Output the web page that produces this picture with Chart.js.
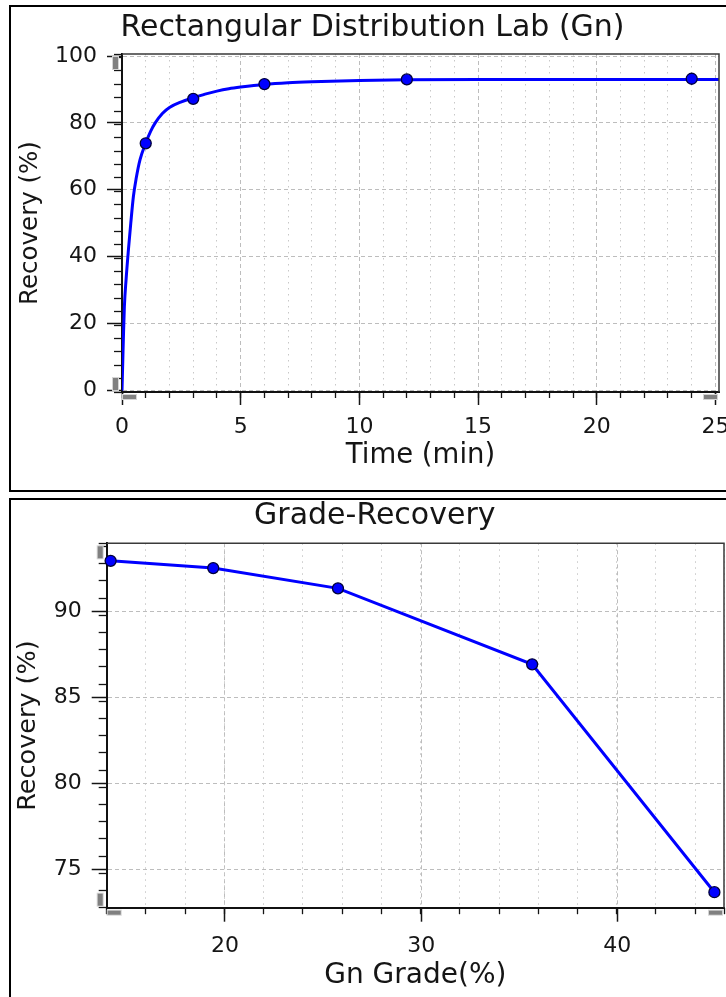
<!DOCTYPE html>
<html><head><meta charset="utf-8">
<script src="https://cdn.jsdelivr.net/npm/chart.js@4.4.0/dist/chart.umd.min.js"></script>
<style>
html,body{margin:0;padding:0;background:#fff;overflow:hidden;width:726px;height:997px;}
.panel{position:absolute;left:9px;width:760px;box-sizing:border-box;border:2px solid #000;}
#p1{top:5px;height:487px;}
#p2{top:498px;height:520px;}
canvas{position:absolute;left:0;}
#c1{top:0;}
#c2{top:495px;}
</style></head><body>
<div class="panel" id="p1"></div><div class="panel" id="p2"></div>
<canvas id="c1" width="745" height="495"></canvas>
<canvas id="c2" width="745" height="502"></canvas>
<script>
// ---------- Chart 1: Rectangular Distribution Lab (Gn) ----------
const kineticTime = [1, 3, 6, 12, 24];
const kineticRecovery = [73.9, 87.2, 91.6, 93.0, 93.2];
const fitTime = [0, 0.03, 0.06, 0.1, 0.17, 0.27, 0.37, 0.48, 0.6, 0.76, 1, 1.2, 1.4, 1.7, 2, 2.5, 3, 3.5, 4, 4.5, 5, 6, 7, 8, 10, 12, 15, 20, 26];
const fitRecovery = [0, 8, 16, 25, 33, 42, 50, 58, 63.5, 69, 74, 77.4, 80, 82.8, 84.6, 86.3, 87.5, 88.6, 89.5, 90.2, 90.7, 91.5, 92, 92.3, 92.7, 92.9, 93, 93, 93];
const timeRange = [0, 25.15];
const timeMajorTicks = [0, 5, 10, 15, 20, 25];
const timeMinorStep = 1;
const recTopRange = [-0.48, 100.6];
const recTopMajorTicks = [0, 20, 40, 60, 80, 100];
const recTopMinorStep = 4;

// ---------- Chart 2: Grade-Recovery ----------
const gnGrade = [14.17, 19.4, 25.76, 35.66, 44.95];
const gradeRecovery = [92.92, 92.5, 91.32, 86.9, 73.65];
const gradeRange = [13.97, 45.44];
const gradeMajorTicks = [20, 30, 40];
const gradeMinorStep = 2;
const recBotRange = [72.75, 93.94];
const recBotMajorTicks = [75, 80, 85, 90];
const recBotMinorStep = 1;

const FONT = "'DejaVu Sans', Verdana, sans-serif";
const TEXT = '#151515';
Chart.defaults.font.family = FONT;
Chart.defaults.color = TEXT;

const toXY = (xs, ys) => xs.map((v, i) => ({x: v, y: ys[i]}));

const framePlugin = {
  id: 'frame',
  afterDatasetsDraw(chart) {
    const {ctx, chartArea: a} = chart;
    ctx.save();
    ctx.strokeStyle = '#3a3a3a';
    ctx.lineWidth = 1.5;
    ctx.beginPath();
    ctx.moveTo(a.left, a.top);
    ctx.lineTo(a.right, a.top);
    ctx.lineTo(a.right, a.bottom);
    ctx.stroke();
    ctx.restore();
  }
};
const handlePlugin = {
  id: 'handles',
  afterDraw(chart) {
    const {ctx, chartArea: a} = chart;
    const box = (x, y, w, h) => {
      ctx.fillStyle = '#d4d4d4';
      ctx.fillRect(x - 1, y - 1, w + 2, h + 2);
      ctx.fillStyle = '#808080';
      ctx.fillRect(x, y, w, h);
    };
    ctx.save();
    box(a.left - 9, a.top + 3, 5, 12);
    box(a.left - 9, a.bottom - 14, 5, 12);
    box(a.left + 1, a.bottom + 3, 13, 4);
    box(a.right - 15, a.bottom + 3, 13, 4);
    ctx.restore();
  }
};

function makeChart(id, c) {
  const majorGrid = {color: '#bdbdbd', lineWidth: 1, tickColor: TEXT, tickWidth: 1.5};
  return new Chart(document.getElementById(id), {
    type: 'scatter',
    data: {datasets: c.datasets},
    options: {
      responsive: false, animation: false, devicePixelRatio: 1,
      layout: {padding: {left: c.padL, right: c.padR, top: 0, bottom: 0}},
      plugins: {
        legend: {display: false}, tooltip: {enabled: false},
        title: {display: true, text: c.title, color: TEXT,
          font: {family: FONT, size: c.titleSize, weight: 'normal'},
          padding: {top: c.titlePadT, bottom: c.titlePadB}}
      },
      scales: {
        x: {
          type: 'linear', position: 'bottom', weight: 1, bounds: 'data',
          min: c.xRange[0], max: c.xRange[1],
          afterBuildTicks: s => { s.ticks = c.xMajor.map(v => ({value: v})); },
          afterFit: s => { s.height = c.xAxisH; },
          grid: Object.assign({}, majorGrid, {tickLength: c.xTickLen}),
          border: {display: true, color: '#111', width: 2, dash: [4, 3]},
          ticks: {font: {size: 22}, color: TEXT, padding: c.xTickPad, maxRotation: 0},
          title: {display: true, text: c.xTitle, color: TEXT,
            font: {size: c.xTitleSize}, padding: {top: 0, bottom: c.xTitlePadB}}
        },
        xm: {
          type: 'linear', position: 'bottom', weight: 0, bounds: 'data',
          min: c.xRange[0], max: c.xRange[1],
          afterFit: s => { s.height = 0; },
          grid: {
            color: ctx => (ctx.tick && c.xMajor.includes(Math.round(ctx.tick.value * 1000) / 1000)) ? 'rgba(0,0,0,0)' : '#c8c8c8',
            lineWidth: 1, tickColor: TEXT, tickWidth: 1.3, tickLength: c.xMinorLen
          },
          border: {display: false, dash: [1.5, 4.5]},
          ticks: {display: false, stepSize: c.xMinor, includeBounds: false}
        },
        y: {
          type: 'linear', position: 'left', weight: 1, bounds: 'data',
          min: c.yRange[0], max: c.yRange[1],
          afterBuildTicks: s => { s.ticks = c.yMajor.map(v => ({value: v})); },
          afterFit: s => { s.width = c.yAxisW; },
          grid: Object.assign({}, majorGrid, {tickLength: 15}),
          border: {display: true, color: '#111', width: 2, dash: [4, 3]},
          ticks: {font: {size: 22}, color: TEXT, padding: 10},
          title: {display: true, text: 'Recovery (%)', color: TEXT,
            font: {size: c.yTitleSize, lineHeight: c.yTitleLH}, padding: {top: 0, bottom: 0}}
        },
        ym: {
          type: 'linear', position: 'left', weight: 0, bounds: 'data',
          min: c.yRange[0], max: c.yRange[1],
          afterFit: s => { s.width = 0; },
          grid: {drawOnChartArea: false, color: '#c8c8c8', tickColor: TEXT, tickWidth: 1.3, tickLength: 8},
          border: {display: false},
          ticks: {display: false, stepSize: c.yMinor, includeBounds: false}
        }
      }
    },
    plugins: [framePlugin, handlePlugin]
  });
}

const pointStyle = {
  pointRadius: 5.5, pointBackgroundColor: '#0000ff',
  pointBorderColor: '#00003a', pointBorderWidth: 1.3
};

makeChart('c1', {
  title: 'Rectangular Distribution Lab (Gn)', titleSize: 30, titlePadT: 10, titlePadB: 8,
  padL: 26, padR: 26, yAxisW: 96, xAxisH: 103,
  xRange: timeRange, xMajor: timeMajorTicks, xMinor: timeMinorStep,
  yRange: recTopRange, yMajor: recTopMajorTicks, yMinor: recTopMinorStep,
  xTickLen: 13, xMinorLen: 6, xTickPad: 9.3,
  xTitle: 'Time (min)', xTitleSize: 27.5, xTitlePadB: 22.5,
  yTitleSize: 24.5, yTitleLH: '10px',
  datasets: [
    Object.assign({data: toXY(kineticTime, kineticRecovery), showLine: false, order: 0, clip: false}, pointStyle),
    {data: toXY(fitTime, fitRecovery), showLine: true, borderColor: '#0000ff', borderWidth: 3,
     pointRadius: 0, cubicInterpolationMode: 'monotone', order: 1, clip: 0}
  ]
});

makeChart('c2', {
  title: 'Grade-Recovery', titleSize: 30, titlePadT: 3.3, titlePadB: 9,
  padL: 25.6, padR: 21, yAxisW: 81.1, xAxisH: 89.3,
  xRange: gradeRange, xMajor: gradeMajorTicks, xMinor: gradeMinorStep,
  yRange: recBotRange, yMajor: recBotMajorTicks, yMinor: recBotMinorStep,
  xTickLen: 14, xMinorLen: 6.5, xTickPad: 11.8,
  xTitle: 'Gn Grade(%)', xTitleSize: 28, xTitlePadB: 4.2,
  yTitleSize: 25.5, yTitleLH: '6px',
  datasets: [
    Object.assign({data: toXY(gnGrade, gradeRecovery), showLine: true, borderColor: '#0000ff',
      borderWidth: 3, tension: 0, clip: false}, pointStyle)
  ]
});
</script></body></html>
